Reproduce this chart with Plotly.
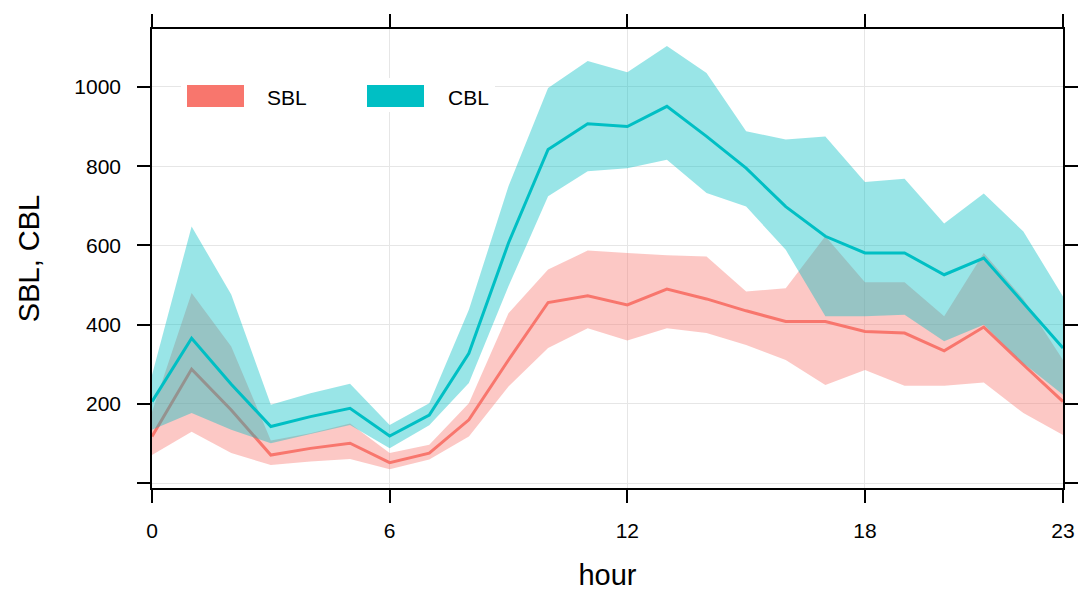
import plotly.graph_objects as go

# Hourly boundary-layer heights: mean and band limits
hours = list(range(24))

sbl_mean = [118, 288, 185, 71, 88, 101, 52, 76, 160, 311, 456, 473,
            450, 490, 465, 435, 408, 408, 383, 379, 334, 394, 299, 206]
sbl_upper = [180, 480, 345, 108, 126, 151, 76, 97, 202, 429, 539, 587,
             581, 575, 572, 484, 492, 623, 507, 507, 421, 581, 465, 311]
sbl_lower = [71, 130, 76, 46, 55, 61, 35, 60, 118, 244, 341, 391,
             360, 391, 379, 349, 311, 248, 286, 246, 246, 254, 177, 122]

cbl_mean = [206, 366, 250, 143, 168, 189, 119, 172, 328, 606, 842, 907,
            900, 951, 875, 795, 698, 623, 581, 581, 526, 568, 455, 341]
cbl_upper = [273, 648, 476, 198, 227, 251, 147, 202, 438, 749, 997, 1065,
             1037, 1103, 1035, 888, 867, 875, 760, 768, 655, 731, 635, 471]
cbl_lower = [135, 177, 135, 101, 124, 147, 88, 146, 253, 497, 724, 787,
             795, 816, 732, 698, 589, 421, 421, 425, 358, 400, 303, 223]

x_ticks = [0, 6, 12, 18, 23]
y_ticks = [0, 200, 400, 600, 800, 1000]
y_tick_text = ["", "200", "400", "600", "800", "1000"]

series = [
    ("SBL", sbl_mean, sbl_upper, sbl_lower, "#F8766D", "rgba(248,118,109,0.4)"),
    ("CBL", cbl_mean, cbl_upper, cbl_lower, "#00BFC4", "rgba(0,191,196,0.4)"),
]

FONT = "Liberation Sans, Arial, sans-serif"

fig = go.Figure()
for name, mean, upper, lower, col, fill in series:
    fig.add_trace(go.Scatter(
        x=hours + hours[::-1], y=upper + lower[::-1],
        fill="toself", fillcolor=fill, mode="none",
        hoverinfo="skip", showlegend=False))
    fig.add_trace(go.Scatter(
        x=hours, y=mean, mode="lines", name=name,
        line=dict(color=col, width=3), showlegend=False))

# Key drawn in paper coordinates
W, H = 1078, 591
L, R, T, B = 152, 1063, 29, 488


def px(x):
    return (x - L) / (R - L)


def py(y):
    return (B - y) / (B - T)


shapes = [dict(type="rect", xref="paper", yref="paper",
               x0=px(181), x1=px(495), y0=py(112), y1=py(78),
               fillcolor="white", line=dict(width=0), layer="above")]
annotations = []
for (name, _, _, _, col, _), rx, tx in zip(series, [187, 367], [265, 446]):
    shapes.append(dict(type="rect", xref="paper", yref="paper",
                       x0=px(rx), x1=px(rx + 57), y0=py(107), y1=py(85),
                       fillcolor=col, line=dict(width=0), layer="above"))
    annotations.append(dict(x=px(tx), y=py(97), xref="paper", yref="paper",
                            text=name, showarrow=False, xanchor="left",
                            yanchor="middle",
                            font=dict(family=FONT, size=21, color="black")))

axis_common = dict(
    showline=True, linecolor="black", linewidth=1.5, mirror="ticks",
    ticks="outside", ticklen=13, tickwidth=1.5, tickcolor="black",
    showgrid=True, gridcolor="#e6e6e6", gridwidth=1, zeroline=False,
    automargin=False,
    tickfont=dict(family=FONT, size=21, color="black"),
)

fig.update_layout(
    width=W, height=H,
    margin=dict(l=L, r=W - R, t=T, b=H - B, autoexpand=False),
    paper_bgcolor="white", plot_bgcolor="white",
    xaxis=dict(range=[0, 23], tickvals=x_ticks, ticklabelstandoff=10,
               title=dict(text="hour", standoff=27,
                          font=dict(family=FONT, size=29, color="black")),
               **axis_common),
    yaxis=dict(range=[-12, 1146], tickvals=y_ticks, ticktext=y_tick_text,
               ticklabelstandoff=12,
               title=dict(text="SBL, CBL", standoff=26,
                          font=dict(family=FONT, size=29, color="black")),
               **axis_common),
    shapes=shapes, annotations=annotations, showlegend=False,
)

fig.write_html("out.html")
